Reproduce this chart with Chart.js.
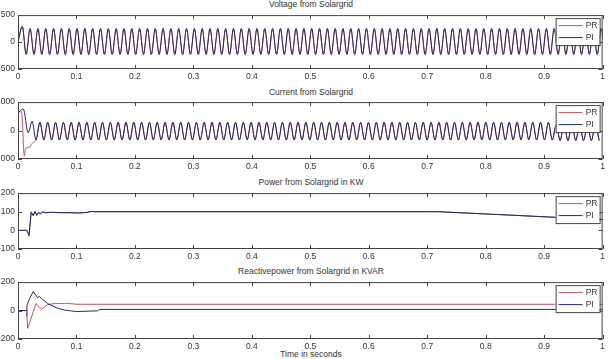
<!DOCTYPE html>
<html lang="en">
<head>
<meta charset="UTF-8">
<title>Solargrid PR vs PI</title>
<script src="https://cdn.jsdelivr.net/npm/chart.js"></script>
<style>
body { margin: 0; background: #fff; width: 608px; height: 359px; overflow: hidden; position: relative; }
canvas { position: absolute; left: 0; }
.ttl { position: absolute; left: 18px; width: 586px; text-align: center; line-height: 10px;
       font: 8.5px 'Liberation Sans Narrow', 'Liberation Sans', Arial, sans-serif; color: #333; }
</style>
</head>
<body>

<div class="ttl" style="top:-1px">Voltage from Solargrid</div>
<div class="ttl" style="top:87px">Current from Solargrid</div>
<div class="ttl" style="top:177px">Power from Solargrid in KW</div>
<div class="ttl" style="top:266px">Reactivepower from Solargrid in KVAR</div>
<div class="ttl" style="top:349px">Time in seconds</div>

<canvas id="c1" width="608" height="76" style="top:7px"></canvas>
<canvas id="c2" width="608" height="79" style="top:94px"></canvas>
<canvas id="c3" width="608" height="78" style="top:185px"></canvas>
<canvas id="c4" width="608" height="79" style="top:274px"></canvas>

<script>
// wave extremes (peak / trough values), one every half cycle
const halfCycle = 0.00669;
const volT0 = 0.0073;
const volExtremes = [
  290, -230, 250, -230, 250, -230, 250, -230, 250, -230,
  250, -230, 250, -230, 250, -230, 250, -230, 250, -230,
  250, -230, 250, -230, 250, -230, 250, -230, 250, -230,
  250, -230, 250, -230, 250, -230, 250, -230, 250, -230,
  250, -230, 250, -230, 250, -230, 250, -230, 250, -230,
  250, -230, 250, -230, 250, -230, 250, -230, 250, -230,
  250, -230, 250, -230, 250, -230, 250, -230, 250, -230,
  250, -230, 250, -230, 250, -230, 250, -230, 250, -230,
  250, -230, 250, -230, 250, -230, 250, -230, 250, -230,
  250, -230, 250, -230, 250, -230, 250, -230, 250, -230,
  250, -230, 250, -230, 250, -230, 250, -230, 250, -230,
  250, -230, 250, -230, 250, -230, 250, -230, 250, -230,
  250, -230, 250, -230, 250, -230, 250, -230, 250, -230,
  250, -230, 250, -230, 250, -230, 250, -230, 250, -230,
  250, -230, 250, -230, 250, -230, 250, -230, 250, -230
];

// current: start-up transient for each controller, then shared steady wave
const curPITime = [0, 0.004, 0.009, 0.0174, 0.0241];
const curPIVal  = [600, 700, 760, -80, 330];
const curPRTime = [0, 0.004, 0.007, 0.0107, 0.013, 0.019, 0.0241];
const curPRVal  = [600, 700, 500, -900, -620, -600, -450];
const curT0 = 0.0308;
const curExtremes = [
  -330, 290, -330, 290, -330, 290, -330, 290, -330, 290,
  -330, 290, -330, 290, -330, 290, -330, 290, -330, 290,
  -330, 290, -330, 290, -330, 290, -330, 290, -330, 290,
  -330, 290, -330, 290, -330, 290, -330, 290, -330, 290,
  -330, 290, -330, 290, -330, 290, -330, 290, -330, 290,
  -330, 290, -330, 290, -330, 290, -330, 290, -330, 290,
  -330, 290, -330, 290, -330, 290, -330, 290, -330, 290,
  -330, 290, -330, 290, -330, 290, -330, 290, -330, 290,
  -330, 290, -330, 290, -330, 290, -330, 290, -330, 290,
  -330, 290, -330, 290, -330, 290, -330, 290, -330, 290,
  -330, 290, -330, 290, -330, 290, -330, 290, -330, 290,
  -330, 290, -330, 290, -330, 290, -330, 290, -330, 290,
  -330, 290, -330, 290, -330, 290, -330, 290, -330, 290,
  -330, 290, -330, 200, -350, 200, -350, 200, -350, 200,
  -350, 200, -350, 200, -350
];

// active power (KW)
const powTime = [0, 0.015, 0.019, 0.0225, 0.026, 0.029, 0.032, 0.035, 0.038, 0.042, 0.047,
                 0.055, 0.07, 0.09, 0.105, 0.118, 0.125, 0.132, 0.72, 0.92, 1];
const powPR = [0, 0, -25, 100, 78, 100, 82, 98, 90, 100, 94, 96, 96, 94, 94, 97, 102, 100, 100, 70, 58];
const powPI = [0, 0, -30, 96, 80, 102, 80, 96, 88, 98, 95, 97, 95, 95, 93, 96, 101, 100, 100, 70, 58];

// reactive power (KVAR)
const reaTime = [0, 0.0148, 0.0152, 0.0165, 0.02, 0.026, 0.031, 0.0336, 0.0365, 0.04, 0.045,
                 0.05, 0.055, 0.063, 0.067, 0.079, 0.09, 0.1, 0.136, 0.14, 1];
const reaPR = [0, 0, -40, -125, -85, -10, 50, 35, 20, 11, 25, 40, 45, 49, 49, 49, 49, 44, 44, 44, 44];
const reaPI = [0, 0, 35, 50, 85, 133, 105, 89, 100, 85, 70, 52, 40, 25, 18, 4, -2, -7, -2, 8, 8];

const legendNames = ['PR', 'PI'];
const colPR = 'rgb(192,84,92)';
const colPI = 'rgb(38,38,104)';
const FONT = "'Liberation Sans Narrow', 'Liberation Sans', Arial, sans-serif";

function pts(times, vals) { return vals.map((v, i) => ({ x: times[i], y: v })); }
function wave(t0, vals) { return vals.map((v, i) => ({ x: t0 + i * halfCycle, y: v })); }

const volPts = [{ x: 0, y: 0 }].concat(wave(volT0, volExtremes));
const curSteady = wave(curT0, curExtremes);

// axes box, inward ticks on all four sides, legend in the top-right corner
const boxTicks = {
  id: 'boxTicks',
  afterDatasetsDraw(chart) {
    const { ctx, chartArea: a, scales } = chart;
    ctx.save();
    ctx.strokeStyle = '#444';
    ctx.lineWidth = 1;
    ctx.strokeRect(a.left + 0.5, a.top + 0.5, a.width - 1, a.height - 1);
    ctx.beginPath();
    scales.x.ticks.forEach(t => {
      const px = Math.round(scales.x.getPixelForValue(t.value)) + 0.5;
      ctx.moveTo(px, a.top); ctx.lineTo(px, a.top + 4);
      ctx.moveTo(px, a.bottom); ctx.lineTo(px, a.bottom - 4);
    });
    scales.y.ticks.forEach(t => {
      const py = Math.round(scales.y.getPixelForValue(t.value)) + 0.5;
      ctx.moveTo(a.left, py); ctx.lineTo(a.left + 4, py);
      ctx.moveTo(a.right, py); ctx.lineTo(a.right - 4, py);
    });
    ctx.stroke();

    const bx = a.right - 47, by = a.top + 3;
    ctx.fillStyle = '#fff';
    ctx.fillRect(bx, by, 44, 27);
    ctx.strokeRect(bx + 0.5, by + 0.5, 44, 27);
    ctx.font = '8.5px ' + FONT;
    ctx.textBaseline = 'middle';
    [colPR, colPI].forEach((c, i) => {
      const ly = by + 7.5 + i * 12;
      ctx.strokeStyle = c;
      ctx.beginPath(); ctx.moveTo(bx + 3, ly); ctx.lineTo(bx + 27, ly); ctx.stroke();
      ctx.fillStyle = '#333';
      ctx.fillText(legendNames[i], bx + 30, ly);
    });
    ctx.restore();
  }
};

function makeChart(id, prData, piData, yMin, yMax, yStep, smooth) {
  const ds = (label, data, color, order) => ({
    label, data, borderColor: color, borderWidth: 1, pointRadius: 0, fill: false, order,
    cubicInterpolationMode: smooth ? 'monotone' : 'default', tension: 0
  });
  return new Chart(document.getElementById(id), {
    type: 'line',
    data: { datasets: [ds('PI', piData, colPI, 0), ds('PR', prData, colPR, 1)] },
    options: {
      responsive: false,
      animation: false,
      layout: { padding: { top: 6, right: 4, left: 0, bottom: 0 } },
      plugins: { legend: { display: false }, tooltip: { enabled: false } },
      scales: {
        x: {
          type: 'linear', min: 0, max: 1,
          grid: { display: false, drawTicks: false }, border: { display: false },
          afterFit: s => { s.height = 14; },
          ticks: {
            stepSize: 0.1, autoSkip: false, maxRotation: 0, padding: 3,
            color: '#333', font: { family: FONT, size: 8.5 },
            callback: v => String(+v.toFixed(1))
          }
        },
        y: {
          min: yMin, max: yMax,
          grid: { display: false, drawTicks: false }, border: { display: false },
          afterFit: s => { s.width = 18; },
          ticks: {
            stepSize: yStep, padding: 3, color: '#333', font: { family: FONT, size: 8.5 }
          }
        }
      }
    },
    plugins: [boxTicks]
  });
}

makeChart('c1', volPts, volPts, -500, 500, 500, true);
makeChart('c2', pts(curPRTime, curPRVal).concat(curSteady), pts(curPITime, curPIVal).concat(curSteady),
          -1000, 1000, 1000, true);
makeChart('c3', pts(powTime, powPR), pts(powTime, powPI), -100, 200, 100, false);
makeChart('c4', pts(reaTime, reaPR), pts(reaTime, reaPI), -200, 200, 200, false);
</script>

</body>
</html>
